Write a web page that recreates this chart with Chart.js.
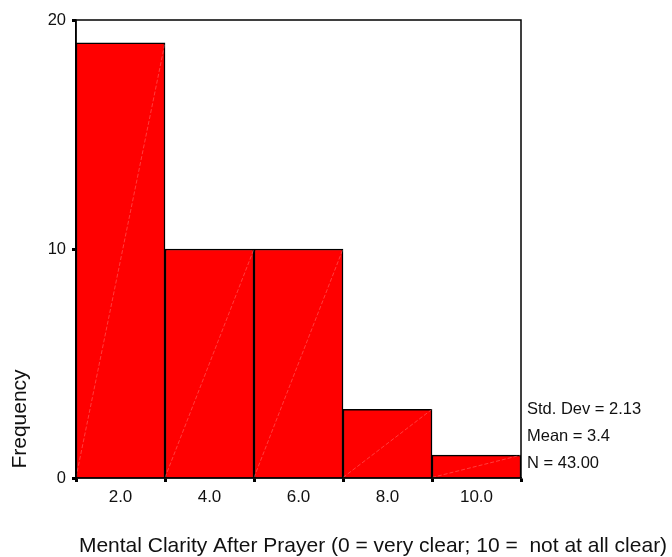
<!DOCTYPE html>
<html>
<head>
<meta charset="utf-8">
<script src="https://cdn.jsdelivr.net/npm/chart.js@4/dist/chart.umd.min.js"></script>
<style>
  html, body { margin: 0; padding: 0; background: #fff; }
  #wrap { width: 672px; height: 557px; }
</style>
</head>
<body>
<div id="wrap"><canvas id="hist"></canvas></div>
<script>
// bin centres and counts
let binCenters = [2, 4, 6, 8, 10],
    counts = [19, 10, 10, 3, 1],
    xTicks = [2, 4, 6, 8, 10],
    yTicks = [0, 10, 20],
    statLines = ['Std. Dev = 2.13', 'Mean = 3.4', 'N = 43.00'],
    xTitle = 'Mental Clarity After Prayer (0 = very clear; 10 =  not at all clear)',
    yTitle = 'Frequency';

const FONT = '"Liberation Sans", Arial, sans-serif';

// frame, faint diagonals in bars, stats and titles
let extras = {
    id: 'extras',
    afterDatasetsDraw: function(chart) {
        let ctx = chart.ctx;
        let meta = chart.getDatasetMeta(0);
        ctx.save();
        ctx.strokeStyle = 'rgba(255,170,170,0.6)';
        ctx.lineWidth = 0.6;
        ctx.setLineDash([4, 2]);
        meta.data.forEach(function(bar) {
            let p = bar.getProps(['x', 'y', 'base', 'width'], true);
            ctx.beginPath();
            ctx.moveTo(p.x - p.width / 2, p.base);
            ctx.lineTo(p.x + p.width / 2, p.y);
            ctx.stroke();
        });
        ctx.restore();
    },
    afterDraw: function(chart) {
        let ctx = chart.ctx,
            a = chart.chartArea;
        ctx.save();
        ctx.strokeStyle = '#000';
        ctx.lineWidth = 1.5;
        ctx.strokeRect(a.left, a.top, a.right - a.left, a.bottom - a.top);
        // corner mark at origin
        ctx.fillStyle = '#000';
        ctx.fillRect(a.left - 3, a.bottom - 1, 4, 3);

        ctx.fillStyle = '#111';
        ctx.font = '16.5px ' + FONT;
        ctx.textAlign = 'left';
        ctx.textBaseline = 'middle';
        statLines.forEach(function(s, i) {
            ctx.fillText(s, a.right + 6, a.bottom - 69 + i * 27);
        });

        ctx.font = '21px ' + FONT;
        ctx.textAlign = 'center';
        ctx.fillText(xTitle, 373, 546);

        ctx.translate(20, 419);
        ctx.rotate(-Math.PI / 2);
        ctx.fillText(yTitle, 0, 0);
        ctx.restore();
    }
};

let ctx = document.getElementById('hist').getContext('2d');
let chart = new Chart(ctx, {
    type: 'bar',
    data: {
        datasets: [{
            data: binCenters.map(function(x, i) { return { x: x, y: counts[i] }; }),
            backgroundColor: '#ff0000',
            borderColor: '#000',
            borderWidth: 1.5,
            barPercentage: 1,
            categoryPercentage: 1
        }]
    },
    options: {
        responsive: true,
        maintainAspectRatio: false,
        animation: false,
        layout: { padding: { left: 0, top: 20, right: 151, bottom: 0 } },
        plugins: { legend: { display: false }, tooltip: { enabled: false } },
        scales: {
            x: {
                type: 'linear',
                min: 1,
                max: 11,
                offset: false,
                afterBuildTicks: function(scale) {
                    scale.ticks = xTicks.map(function(v) { return { value: v }; });
                },
                afterFit: function(scale) { scale.height = 79; },
                grid: { drawOnChartArea: false, drawTicks: true, tickLength: 4, tickWidth: 3, color: '#000' },
                border: { display: true, color: '#000', width: 1.5 },
                ticks: {
                    padding: 5,
                    color: '#111',
                    font: { family: FONT, size: 17 },
                    callback: function(v) { return Number(v).toFixed(1); }
                }
            },
            y: {
                min: 0,
                max: 20,
                afterBuildTicks: function(scale) {
                    scale.ticks = yTicks.map(function(v) { return { value: v }; });
                },
                afterFit: function(scale) { scale.width = 76; },
                grid: { drawOnChartArea: false, drawTicks: true, tickLength: 4, tickWidth: 3, color: '#000' },
                border: { display: true, color: '#000', width: 1.5 },
                ticks: {
                    padding: 6,
                    color: '#111',
                    font: { family: FONT, size: 16.5 }
                }
            }
        }
    },
    plugins: [extras]
});
</script>
</body>
</html>
